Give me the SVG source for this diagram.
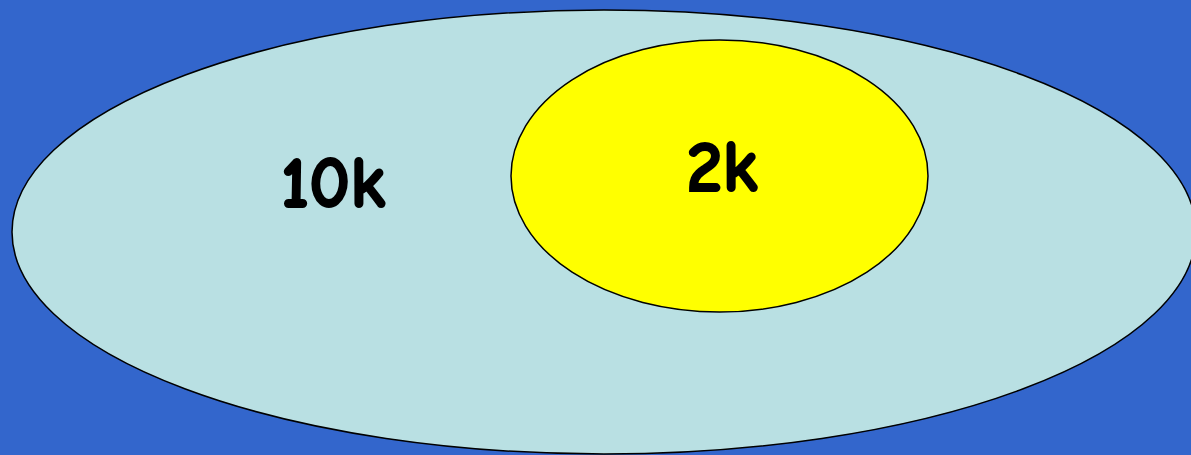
<svg xmlns="http://www.w3.org/2000/svg" width="1191" height="455" viewBox="0 0 1191 455">
<style>
.lbl{font-family:"Comic Neue","Liberation Sans",Arial,sans-serif;font-weight:bold;font-size:72px;fill:#000;stroke:#000;stroke-width:2}
.sh{stroke:#000;stroke-width:1.5}
</style>
<rect x="0" y="0" width="1191" height="455" fill="#3366CC"/>
<g id="outer">
<ellipse class="sh" cx="604" cy="232" rx="592" ry="222" fill="#B9E0E3"/>
<text class="lbl" x="333" y="207" text-anchor="middle">10k</text>
</g>
<g id="inner">
<ellipse class="sh" cx="719.5" cy="176" rx="208.5" ry="136" fill="#FFFF00"/>
<text class="lbl" x="722" y="191" text-anchor="middle">2k</text>
</g>
<g id="connectors"/>
</svg>
